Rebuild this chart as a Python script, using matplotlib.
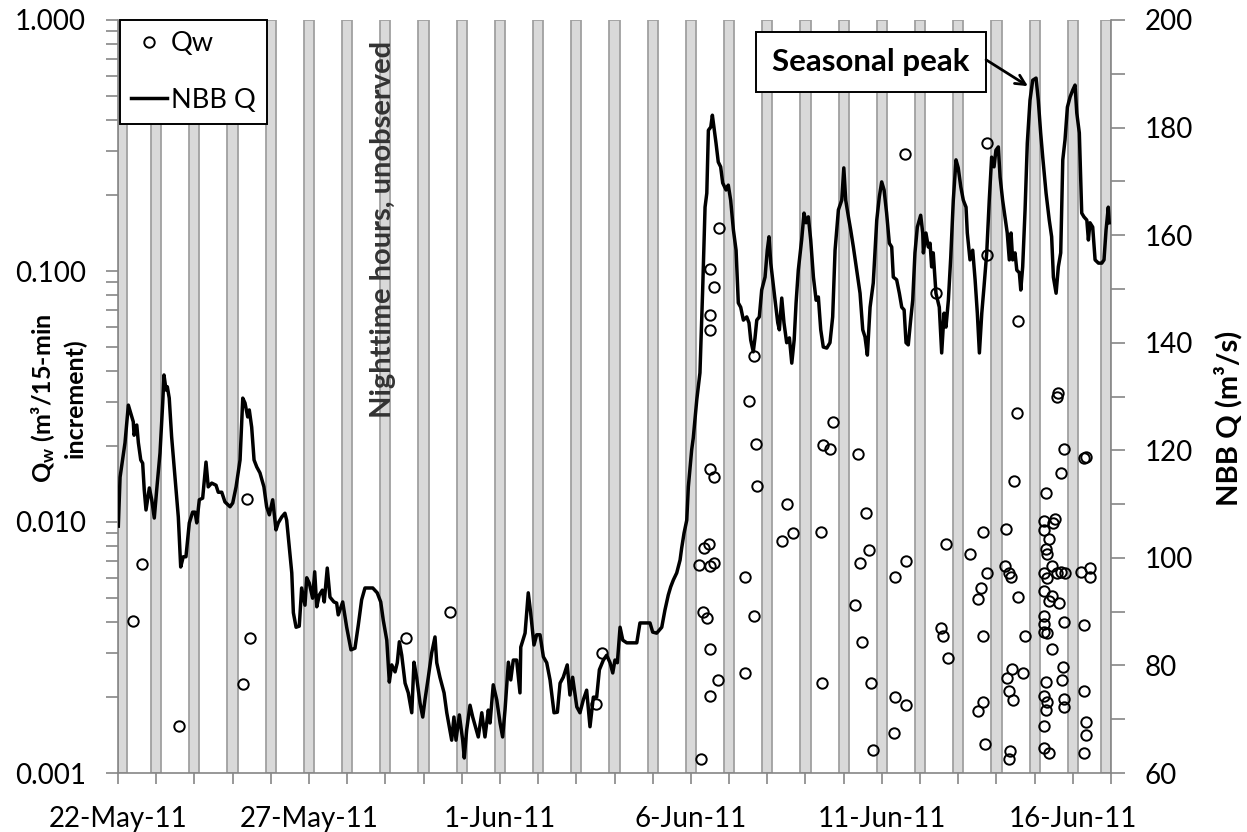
import matplotlib
matplotlib.use("Agg")
import matplotlib.pyplot as plt
import matplotlib.dates as mdates
import pandas as pd
from matplotlib.ticker import FixedLocator, MultipleLocator, NullFormatter, LogLocator
from matplotlib.lines import Line2D
from matplotlib.transforms import blended_transform_factory

plt.rcParams['font.family'] = ['Lato', 'DejaVu Sans']
plt.rcParams['mathtext.fontset'] = 'custom'
plt.rcParams['mathtext.rm'] = 'Lato'
plt.rcParams['mathtext.bf'] = 'Lato:bold'
plt.rcParams['mathtext.it'] = 'Lato:italic'

# ---------------- data ----------------
start = pd.Timestamp('2011-05-22')

# NBB Q (m3/s), hours since 22-May-11 00:00
nbb_hours = [
    0.2, 1.3, 4.4, 6.5, 8.0, 9.6, 10.1, 11.8, 12.8, 14.3,
    15.5, 16.5, 17.6, 19.7, 21.2, 22.8, 24.3, 26.4, 28.1, 28.9,
    30.2, 31.0, 32.2, 33.7, 35.8, 37.9, 39.4, 41.0, 42.7, 44.8,
    46.9, 48.4, 49.5, 51.1, 53.2, 55.3, 56.7, 58.9, 61.6, 63.0,
    65.2, 67.2, 70.4, 72.1, 74.2, 76.7, 78.4, 79.8, 81.5, 82.5,
    84.0, 85.5, 87.2, 89.2, 91.7, 93.4, 95.1, 97.2, 99.3, 100.7,
    102.9, 104.9, 106.0, 107.6, 109.2, 110.2, 111.9, 113.9, 115.4, 117.5,
    118.6, 120.2, 122.3, 123.6, 124.9, 126.5, 128.4, 129.6, 131.5, 133.2,
    135.7, 137.4, 138.4, 141.2, 143.7, 146.4, 148.9, 151.0, 153.1, 155.2,
    160.1, 162.9, 165.1, 166.7, 168.9, 170.5, 172.0, 174.1, 175.5, 176.8,
    178.3, 180.4, 182.4, 184.6, 186.0, 187.7, 189.8, 191.5, 192.9, 195.0,
    197.1, 199.2, 200.3, 202.3, 204.9, 206.6, 208.2, 209.7, 211.1, 212.4,
    214.5, 216.6, 217.6, 219.1, 221.2, 222.9, 224.3, 226.4, 228.6, 230.6,
    232.7, 233.8, 235.8, 238.0, 240.1, 241.7, 243.2, 245.3, 246.8, 248.4,
    250.5, 252.6, 253.1, 255.8, 257.8, 259.3, 261.4, 263.1, 265.2, 267.3,
    269.4, 271.5, 274.0, 276.1, 277.8, 279.8, 282.3, 284.0, 285.7, 288.3,
    290.3, 292.4, 294.5, 296.6, 298.7, 300.8, 302.5, 305.0, 307.1, 309.2,
    310.9, 312.3, 313.8, 315.5, 317.2, 319.7, 326.0, 328.0, 334.3, 336.0,
    338.5, 341.7, 343.7, 345.8, 347.3, 349.0, 351.1, 353.2, 354.2, 355.7,
    357.4, 358.4, 360.5, 361.5, 363.7, 365.7, 367.4, 368.9, 370.0, 371.0,
    372.5, 373.5, 374.5, 375.8, 377.2, 378.7, 380.0, 382.1, 383.5, 385.0,
    386.7, 388.4, 389.8, 391.3, 393.0, 395.1, 396.5, 397.6, 399.2, 400.3,
    401.4, 403.0, 404.5, 406.6, 408.0, 409.1, 410.2, 411.4, 412.9, 414.6,
    415.6, 417.1, 418.5, 420.2, 421.9, 423.4, 424.9, 426.1, 427.5, 429.6,
    431.1, 432.4, 433.8, 435.3, 437.0, 438.7, 440.1, 441.6, 443.2, 445.4,
    447.4, 449.1, 450.6, 452.7, 454.8, 456.1, 457.3, 459.0, 460.4, 462.1,
    464.2, 466.3, 468.0, 469.4, 470.9, 472.6, 474.6, 476.8, 478.4, 479.9,
    481.4, 483.0, 484.7, 486.2, 487.2, 489.3, 491.0, 492.5, 494.0, 495.2,
    496.6, 498.1, 499.4, 500.8, 502.3, 504.4, 505.7, 506.1, 507.7, 509.2,
    510.3, 511.3, 512.3, 514.0, 516.1, 517.6, 519.1, 520.3, 521.8, 523.3,
    524.9, 526.6, 528.0, 529.6, 531.2, 532.9, 533.7, 535.4, 537.1, 538.6,
    540.0, 541.3, 542.8, 544.2, 545.9, 547.5, 549.0, 550.5, 551.7, 553.2,
    554.3, 555.9, 557.4, 558.8, 560.1, 561.2, 562.2, 563.7, 564.8, 566.4,
    567.3, 568.5, 570.0, 571.4, 573.1, 574.8, 576.9, 578.3, 579.8, 581.1,
    583.2, 585.2, 586.7, 587.8, 589.5, 590.9, 592.4, 593.7, 595.1, 596.6,
    598.3, 600.0, 601.4, 602.5, 604.1, 605.6, 607.0, 608.8, 609.8, 610.8,
    612.5, 614.0, 616.1, 618.2, 619.6, 620.9, 622.3, 622.9,
]
nbb_q = [
    105.9, 115.0, 121.4, 128.4, 126.9, 125.3, 122.8, 124.7, 121.4, 118.2,
    117.6, 112.6, 108.9, 113.0, 110.8, 107.4, 112.6, 119.5, 128.8, 134.0,
    131.2, 131.8, 129.7, 122.5, 115.0, 107.6, 98.3, 100.2, 100.2, 106.5,
    108.5, 108.5, 106.5, 110.8, 111.1, 117.8, 113.2, 113.9, 113.5, 112.2,
    112.2, 110.4, 109.5, 110.2, 113.2, 118.2, 129.7, 128.8, 126.2, 127.5,
    124.3, 118.2, 116.9, 115.8, 113.2, 109.5, 108.0, 110.8, 105.2, 106.5,
    107.6, 108.3, 107.0, 102.0, 97.2, 89.8, 87.1, 87.3, 94.4, 91.2,
    96.3, 95.3, 92.5, 97.4, 90.9, 93.1, 94.0, 91.8, 98.1, 92.7,
    91.8, 91.6, 89.4, 91.8, 87.1, 82.9, 83.2, 87.5, 92.2, 94.4,
    94.4, 93.5, 91.8, 88.4, 84.7, 76.9, 80.1, 78.8, 80.5, 84.4,
    81.9, 76.7, 74.9, 71.2, 80.6, 77.7, 73.0, 70.4, 73.6, 77.8,
    82.3, 85.3, 80.5, 77.8, 74.9, 71.2, 68.6, 66.1, 70.4, 66.1,
    70.8, 66.1, 62.8, 68.0, 72.6, 70.4, 68.9, 66.7, 71.2, 66.7,
    71.7, 69.3, 76.4, 73.6, 69.3, 66.7, 71.7, 80.6, 77.3, 81.0,
    81.0, 74.9, 83.4, 86.0, 93.5, 89.8, 83.8, 85.7, 85.7, 81.6,
    80.5, 77.3, 71.2, 71.3, 76.7, 77.8, 80.1, 74.5, 77.8, 72.3,
    71.2, 73.6, 75.4, 68.6, 74.1, 74.1, 79.2, 81.0, 81.9, 80.5,
    78.6, 81.0, 80.5, 87.1, 84.7, 84.2, 84.2, 87.9, 87.9, 86.2,
    86.0, 87.1, 90.3, 93.1, 94.6, 95.9, 97.2, 99.6, 101.8, 104.6,
    107.0, 113.2, 120.1, 122.3, 129.4, 134.4, 149.8, 165.2, 167.8, 179.5,
    180.1, 182.3, 180.1, 177.1, 173.6, 172.7, 169.7, 168.4, 169.3, 166.5,
    161.0, 157.2, 147.4, 146.6, 144.2, 144.8, 143.7, 140.5, 138.3, 140.9,
    144.2, 144.8, 149.8, 152.2, 157.2, 159.7, 154.8, 151.7, 147.9, 143.7,
    142.4, 148.3, 143.7, 140.0, 140.9, 136.2, 140.5, 147.4, 153.5, 159.1,
    164.1, 162.3, 163.4, 159.1, 152.2, 147.9, 148.5, 142.4, 139.2, 139.0,
    140.0, 144.8, 157.2, 164.7, 166.5, 172.5, 166.5, 163.4, 161.0, 157.8,
    153.5, 149.2, 142.4, 141.1, 137.7, 146.6, 151.1, 162.8, 167.1, 169.9,
    168.4, 164.1, 158.5, 157.8, 152.2, 151.7, 149.2, 146.6, 146.1, 140.0,
    139.6, 144.2, 147.9, 156.7, 161.5, 163.7, 160.4, 156.7, 160.4, 157.8,
    158.5, 154.1, 156.7, 149.2, 146.6, 138.1, 145.5, 142.9, 147.9, 155.9,
    166.5, 174.0, 172.5, 169.0, 166.5, 165.2, 160.4, 155.4, 157.2, 151.7,
    145.5, 138.1, 145.5, 150.4, 156.7, 166.5, 174.5, 172.7, 175.8, 176.4,
    170.8, 166.5, 163.4, 160.4, 155.4, 160.4, 155.4, 156.7, 153.5, 153.0,
    149.8, 154.1, 164.7, 177.1, 185.1, 188.8, 189.2, 185.1, 179.0, 174.5,
    167.8, 162.8, 159.7, 152.2, 149.2, 154.1, 156.7, 174.0, 177.7, 183.8,
    185.7, 187.0, 187.9, 182.7, 179.0, 164.1, 163.4, 162.8, 159.1, 162.3,
    161.5, 155.4, 154.8, 154.8, 155.4, 161.0, 165.2, 162.3,
]

# Qw (m3 / 15-min increment), hours since 22-May-11 00:00
qw_hours = [
    15.3, 9.2, 38.3, 80.9, 82.9, 78.7, 180.8, 208.6, 304.0, 300.4,
    366.4, 372.0, 374.3, 368.4, 371.2, 365.3, 372.0, 374.5, 367.4, 369.9,
    372.0, 376.9, 372.0, 396.3, 400.9, 401.7, 394.2, 399.9, 394.2, 420.4,
    417.1, 424.4, 441.5, 442.4, 377.7, 372.0, 374.7, 372.0, 372.0, 399.9,
    449.1, 443.2, 447.4, 465.2, 470.0, 472.1, 466.3, 463.1, 467.3, 473.2,
    474.6, 488.3, 495.2, 488.5, 495.2, 487.5, 520.3, 517.2, 518.2, 521.8,
    535.4, 543.4, 545.9, 542.3, 540.2, 543.4, 543.4, 540.2, 544.8, 557.8,
    557.4, 559.9, 561.0, 565.8, 570.0, 562.0, 558.8, 568.9, 559.9, 562.2,
    560.5, 559.7, 563.2, 564.8, 583.0, 582.1, 582.1, 588.8, 587.8, 585.2,
    583.0, 584.0, 586.7, 582.1, 584.0, 589.9, 592.4, 595.1, 582.1, 586.7,
    585.2, 591.2, 582.1, 582.1, 582.1, 583.6, 594.5, 586.7, 593.6, 593.4,
    583.0, 582.1, 584.0, 583.0, 594.5, 594.5, 582.1, 582.1, 585.2, 594.5,
    592.4, 607.0, 608.3, 605.2, 610.8, 610.8, 607.0, 607.0, 608.3, 608.3,
    607.0, 494.6, 545.9, 545.9, 514.0, 565.8, 590.9, 589.9,
]
qw_vals = [
    0.00679, 0.00403, 0.00154, 0.01238, 0.00346, 0.00227, 0.00346, 0.00438, 0.00302, 0.00188,
    0.00114, 0.01622, 0.01516, 0.00790, 0.00815, 0.00676, 0.00668, 0.00688, 0.00438, 0.00413,
    0.00313, 0.00235, 0.00203, 0.03043, 0.02051, 0.01391, 0.00602, 0.00422, 0.00251, 0.01180,
    0.00842, 0.00902, 0.00915, 0.00228, 0.1488, 0.1016, 0.0861, 0.0668, 0.0582, 0.0459,
    0.02510, 0.02026, 0.01953, 0.01861, 0.01083, 0.00773, 0.00688, 0.00467, 0.00333, 0.00228,
    0.00124, 0.00602, 0.00699, 0.00200, 0.00186, 0.00144, 0.00815, 0.00377, 0.00351, 0.00288,
    0.00747, 0.00915, 0.00625, 0.00544, 0.00492, 0.00351, 0.00192, 0.00177, 0.00130, 0.00935,
    0.00670, 0.00625, 0.00605, 0.00501, 0.00351, 0.00260, 0.00240, 0.00251, 0.00212, 0.00195,
    0.00122, 0.00114, 0.01461, 0.02725, 0.01301, 0.01012, 0.00929, 0.01031, 0.00994, 0.00856,
    0.00778, 0.00747, 0.00668, 0.00625, 0.00600, 0.00625, 0.00630, 0.00625, 0.00532, 0.00507,
    0.00484, 0.00474, 0.00422, 0.00391, 0.00366, 0.00362, 0.00401, 0.00312, 0.00265, 0.00235,
    0.00230, 0.00203, 0.00192, 0.00179, 0.00198, 0.00183, 0.00154, 0.00126, 0.00120, 0.01949,
    0.01572, 0.01794, 0.01821, 0.00632, 0.00654, 0.00602, 0.00388, 0.00212, 0.00159, 0.00142,
    0.00120, 0.2925, 0.3245, 0.1158, 0.0815, 0.0634, 0.0327, 0.0316,
]

# nighttime (unobserved) periods, centred on each midnight
night_dates = pd.date_range('2011-05-22', '2011-06-17', freq='D')
night_half_width_h = 3.2

x_tick_dates = ['2011-05-22', '2011-05-27', '2011-06-01', '2011-06-06', '2011-06-11', '2011-06-16']
x_tick_labels = ['22-May-11', '27-May-11', '1-Jun-11', '6-Jun-11', '11-Jun-11', '16-Jun-11']
left_ticks = [0.001, 0.01, 0.1, 1.0]
left_tick_labels = ['0.001', '0.010', '0.100', '1.000']
right_ticks = [60, 80, 100, 120, 140, 160, 180, 200]

peak_hour, peak_q = 571.8, 187.7

# ---------------- figure ----------------
fig = plt.figure(figsize=(12.47, 8.32), dpi=100)
ax = fig.add_axes([118 / 1247, 1 - 773 / 832, (1111 - 118) / 1247, (773 - 20) / 832])
ax2 = ax.twinx()

xmin = mdates.date2num(start)
xmax = mdates.date2num(pd.Timestamp('2011-06-17'))
hw = night_half_width_h / 24.0

for d in night_dates:
    c = mdates.date2num(d)
    s, e = c - hw, c + hw
    if s < xmin:
        s, e = xmin, xmin + 1.85 * hw
    if e > xmax:
        s, e = xmax - 2 * hw, xmax
    ax.axvspan(s, e, ymin=0, ymax=1, facecolor='#d9d9d9', edgecolor='#a0a0a0',
               linewidth=1.3, zorder=0.5)

gray = '#868686'
qw_t = [start + pd.Timedelta(hours=h) for h in qw_hours]
nbb_t = [start + pd.Timedelta(hours=h) for h in nbb_hours]

ax.plot(qw_t, qw_vals, ls='none', marker='o', mfc='none', mec='black', ms=7.5, mew=1.4, zorder=3)
ax.set_yscale('log')
ax.set_ylim(0.001, 1.0)
ax.set_xlim(xmin, xmax)

ax2.plot(nbb_t, nbb_q, color='black', lw=2.5, zorder=3, solid_joinstyle='round')
ax2.set_ylim(60, 200)
ax2.set_xlim(xmin, xmax)

# left axis
ax.yaxis.set_major_locator(FixedLocator(left_ticks))
ax.set_yticklabels(left_tick_labels)
ax.yaxis.set_minor_locator(LogLocator(base=10, subs=range(2, 10)))
ax.yaxis.set_minor_formatter(NullFormatter())
ax.tick_params(axis='y', which='both', direction='out', length=9, width=1.2, color=gray,
               pad=14, labelsize=20)

# x axis
ax.xaxis.set_major_locator(FixedLocator([mdates.date2num(pd.Timestamp(d)) for d in x_tick_dates]))
ax.set_xticklabels(x_tick_labels)
ax.xaxis.set_minor_locator(mdates.DayLocator())
ax.tick_params(axis='x', which='both', direction='out', length=8, width=1.2, color=gray,
               pad=16, labelsize=20)

# right axis
ax2.yaxis.set_major_locator(FixedLocator(right_ticks))
ax2.yaxis.set_minor_locator(MultipleLocator(10))
ax2.tick_params(axis='y', which='both', direction='out', length=10, width=1.2, color=gray,
                pad=14, labelsize=20)

for a in (ax, ax2):
    a.spines['top'].set_visible(False)
    for s in a.spines.values():
        s.set_color(gray)
        s.set_linewidth(1.2)
ax2.spines['left'].set_visible(False)
ax2.spines['bottom'].set_visible(False)
ax.spines['right'].set_visible(False)

# labels
fig.text(58 / 1247, 1 - 398 / 832, 'Q$_\\mathbf{w}$ (m³/15-min\nincrement)', rotation=90,
         ha='center', va='center', fontsize=18, fontweight='bold', multialignment='center',
         linespacing=1.3)
fig.text(1228 / 1247, 1 - 418 / 832, 'NBB Q (m³/s)', rotation=90, ha='center', va='center',
         fontsize=21, fontweight='bold')

# nighttime text
tr = blended_transform_factory(ax.transData, ax.transAxes)
ax.text(start + pd.Timedelta(hours=166.5), 1 - (229 - 20) / 753, 'Nighttime hours, unobserved',
        transform=tr, rotation=90, ha='center', va='center', fontsize=21, fontweight='bold',
        color='#333333', zorder=4)

# annotation: text box and arrow
ax2.text(start + pd.Timedelta(hours=473.2), 192.2, 'Seasonal peak', ha='center', va='center',
         fontsize=22.5, fontweight='bold', zorder=6,
         bbox=dict(boxstyle='square,pad=0.52', fc='white', ec='black', lw=1.4))
ax2.annotate('', xy=(start + pd.Timedelta(hours=peak_hour), peak_q),
             xytext=(start + pd.Timedelta(hours=545.5), 192.6), textcoords='data',
             arrowprops=dict(arrowstyle='->,head_length=0.7,head_width=0.35', color='black',
                             lw=2, shrinkA=0, shrinkB=0), zorder=6)

# legend
handles = [Line2D([], [], ls='none', marker='o', mfc='none', mec='black', ms=7.5, mew=1.4),
           Line2D([], [], color='black', lw=2.5)]
leg = ax2.legend(handles, ['Qw', 'NBB Q'], loc='upper left', bbox_to_anchor=(0.002, 1.0),
                 frameon=True, fancybox=False, edgecolor='black', framealpha=1, fontsize=19.5,
                 borderpad=0.42, handlelength=1.3, handletextpad=0.15, labelspacing=1.15,
                 borderaxespad=0.0)
leg.get_frame().set_linewidth(1.4)
leg.set_zorder(10)

fig.savefig('out.png', dpi=100)
